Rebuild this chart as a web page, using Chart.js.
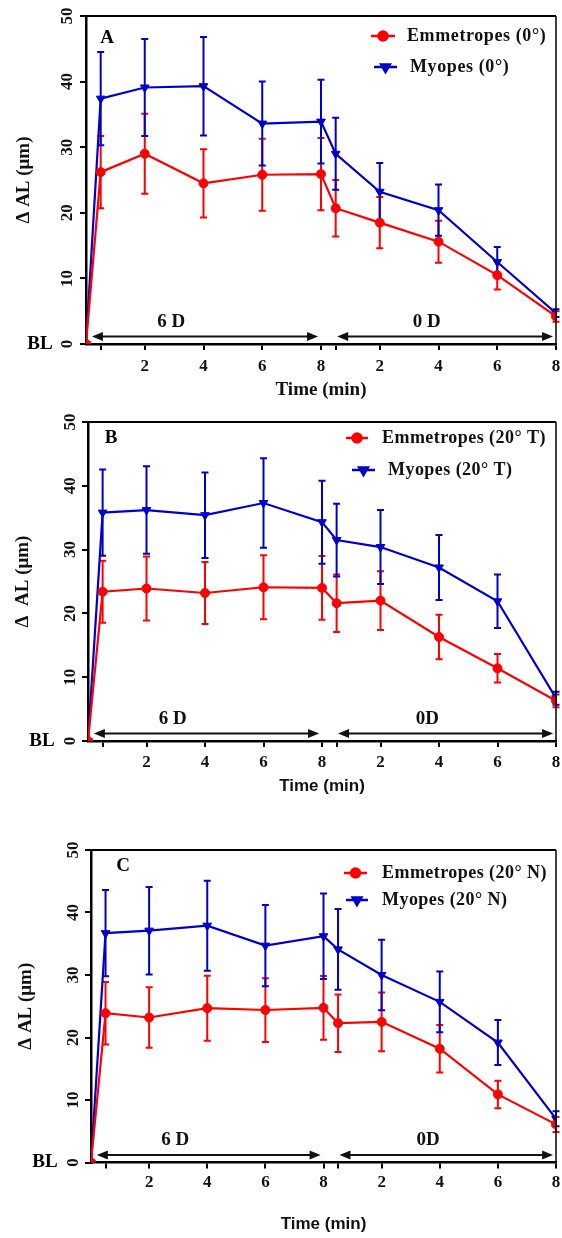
<!DOCTYPE html>
<html>
<head>
<meta charset="utf-8">
<script src="https://cdn.jsdelivr.net/npm/chart.js@4.4.1/dist/chart.umd.min.js"></script>
<style>
  html, body { margin: 0; padding: 0; background: #fff; }
  .panel { position: absolute; left: 0; width: 562px; }
  canvas { display: block; }
</style>
</head>
<body>
<div class="panel" style="top:0px;height:410px"><canvas id="chartA" width="562" height="410"></canvas></div>
<div class="panel" style="top:410px;height:410px"><canvas id="chartB" width="562" height="410"></canvas></div>
<div class="panel" style="top:820px;height:418px"><canvas id="chartC" width="562" height="418"></canvas></div>
<script>
// time points: BL, then 6 D phase (0.5..8 min), then 0 D phase (0.5..8 min, drawn after 8)
const times = [0, 0.5, 2, 4, 6, 8, 8.5, 10, 12, 14, 16];
const tickValues = [0.5, 2, 4, 6, 8, 8.5, 10, 12, 14, 16];
const tickLabels = ["", "2", "4", "6", "8", "", "2", "4", "6", "8"];
const yTicks = [0, 10, 20, 30, 40, 50];

const emmA = [0, 26.2, 29.0, 24.5, 25.8, 25.9, 20.7, 18.5, 15.6, 10.5, 4.2];
const emmSdA = [0, 5.5, 6.1, 5.2, 5.5, 5.5, 4.3, 3.9, 3.2, 2.2, 0.8];
const myoA = [0, 37.4, 39.1, 39.3, 33.6, 33.9, 29.0, 23.2, 20.4, 12.5, 4.7];
const myoSdA = [0, 7.1, 7.4, 7.5, 6.4, 6.4, 5.5, 4.4, 3.9, 2.3, 0.6];

const emmB = [0, 23.4, 23.9, 23.2, 24.1, 24.0, 21.6, 22.0, 16.3, 11.4, 6.3];
const emmSdB = [0, 4.85, 5.0, 4.85, 5.0, 5.0, 4.5, 4.6, 3.5, 2.25, 1.0];
const myoB = [0, 35.8, 36.2, 35.4, 37.3, 34.3, 31.5, 30.4, 27.2, 21.9, 6.7];
const myoSdB = [0, 6.75, 6.85, 6.7, 7.0, 6.5, 5.7, 5.8, 5.1, 4.2, 1.0];

const emmC = [0, 23.9, 23.2, 24.7, 24.4, 24.75, 22.3, 22.5, 18.2, 10.9, 6.1];
const emmSdC = [0, 5.0, 4.85, 5.2, 5.1, 5.1, 4.6, 4.7, 3.8, 2.2, 1.2];
const myoC = [0, 36.7, 37.1, 37.9, 34.7, 36.2, 34.1, 30.0, 25.7, 19.2, 7.0];
const myoSdC = [0, 6.9, 7.0, 7.2, 6.5, 6.85, 6.45, 5.65, 4.85, 3.6, 1.2];

const emmLabels = ["Emmetropes (0°)", "Emmetropes (20° T)", "Emmetropes (20° N)"];
const myoLabels = ["Myopes (0°)", "Myopes (20° T)", "Myopes (20° N)"];
const panelLetters = ["A", "B", "C"];
const phaseNames = [["6 D", "0 D"], ["6 D", "0D"], ["6 D", "0D"]];
const phaseStart = [0.2, 8.55];
const phaseEnd = [7.9, 15.9];
const phaseLabelX = [2.9, 11.6];

const RED = "#ff0000";
const BLUE = "#0000cc";
const SERIF = "'Liberation Serif', 'Times New Roman', serif";
const SANS = "'Liberation Sans', Arial, sans-serif";

// layout of each panel, in canvas pixels
const panels = [
  { id: "chartA", h: 410, area: { left: 86, right: 558, top: 16, bottom: 344 },
    emm: emmA, emmSd: emmSdA, myo: myoA, myoSd: myoSdA,
    yTitle: "\u0394 AL (\u03bcm)", yTitlePad: 13, yTickPad: 4, xTickPad: 6,
    xTitleFont: SERIF, xTitleSize: 19, xTitlePad: 9, letter: [107, 38],
    legendSpacing: 0.6,
    legend: [[371, 395, 407, 36], [374, 397, 410, 67]] },
  { id: "chartB", h: 410, area: { left: 88, right: 556, top: 12, bottom: 331 },
    emm: emmB, emmSd: emmSdB, myo: myoB, myoSd: myoSdB,
    yTitle: "\u0394  AL (\u03bcm)", yTitlePad: 12, yTickPad: 3, xTickPad: 5,
    xTitleFont: SANS, xTitleSize: 17, xTitlePad: 23, letter: [111, 28],
    legendSpacing: 0.45,
    legend: [[346, 368, 382, 28], [352, 375, 388, 60]] },
  { id: "chartC", h: 418, area: { left: 91, right: 559, top: 30, bottom: 342.5 },
    emm: emmC, emmSd: emmSdC, myo: myoC, myoSd: myoSdC,
    yTitle: "\u0394 AL (\u03bcm)", yTitlePad: 15, yTickPad: 3, xTickPad: 4,
    xTitleFont: SANS, xTitleSize: 17, xTitlePad: 3, letter: [123, 46],
    legendSpacing: 0.45,
    legend: [[344, 367, 382, 53], [346, 368, 382, 80]] }
];

function decorations(p, n) {
  return {
    id: "deco" + n,
    beforeDatasetsDraw(chart) {
      const ctx = chart.ctx;
      const xs = chart.scales.x, ys = chart.scales.y;
      ctx.save();
      ctx.lineWidth = 2;
      chart.data.datasets.forEach(ds => {
        ctx.strokeStyle = ds.borderColor;
        ds.data.forEach((pt, i) => {
          const sd = ds.sd[i];
          if (!sd) return;
          const x = xs.getPixelForValue(pt.x);
          const yt = ys.getPixelForValue(pt.y + sd);
          const yb = ys.getPixelForValue(pt.y - sd);
          ctx.beginPath();
          ctx.moveTo(x, yt); ctx.lineTo(x, yb);
          ctx.moveTo(x - 3.5, yt); ctx.lineTo(x + 3.5, yt);
          ctx.moveTo(x - 3.5, yb); ctx.lineTo(x + 3.5, yb);
          ctx.stroke();
        });
      });
      ctx.restore();
    },
    afterDraw(chart) {
      const ctx = chart.ctx;
      const a = chart.chartArea;
      const xs = chart.scales.x, ys = chart.scales.y;
      const y0 = ys.getPixelForValue(0);
      ctx.save();
      // frame top and right
      ctx.strokeStyle = "#000";
      ctx.lineWidth = 2;
      ctx.beginPath(); ctx.moveTo(a.left, a.top); ctx.lineTo(a.right, a.top); ctx.stroke();
      ctx.lineWidth = 1.5;
      ctx.beginPath(); ctx.moveTo(a.right, a.top); ctx.lineTo(a.right, a.bottom); ctx.stroke();

      // phase arrows
      ctx.strokeStyle = "#111";
      ctx.fillStyle = "#111";
      ctx.lineWidth = 2;
      const ya = y0 - 7.5;
      for (let k = 0; k < phaseStart.length; k++) {
        const x1 = xs.getPixelForValue(phaseStart[k]);
        const x2 = xs.getPixelForValue(phaseEnd[k]);
        ctx.beginPath(); ctx.moveTo(x1 + 6, ya); ctx.lineTo(x2 - 6, ya); ctx.stroke();
        ctx.beginPath(); ctx.moveTo(x1, ya); ctx.lineTo(x1 + 11, ya - 4.5); ctx.lineTo(x1 + 11, ya + 4.5); ctx.closePath(); ctx.fill();
        ctx.beginPath(); ctx.moveTo(x2, ya); ctx.lineTo(x2 - 11, ya - 4.5); ctx.lineTo(x2 - 11, ya + 4.5); ctx.closePath(); ctx.fill();
        ctx.font = "bold 19px " + SERIF;
        ctx.textAlign = "center";
        ctx.textBaseline = "middle";
        ctx.fillText(phaseNames[n][k], xs.getPixelForValue(phaseLabelX[k]), y0 - 22);
      }

      // BL label
      ctx.fillStyle = "#000";
      ctx.font = "bold 19px " + SERIF;
      ctx.textAlign = "center";
      ctx.fillText("BL", a.left - 46, y0);

      // panel letter
      ctx.fillText(panelLetters[n], p.letter[0], p.letter[1]);

      // legend
      chart.data.datasets.forEach((ds, i) => {
        const [lx0, lx1, tx, ty] = p.legend[i];
        ctx.strokeStyle = ds.borderColor;
        ctx.fillStyle = ds.borderColor;
        ctx.lineWidth = 2.5;
        ctx.beginPath(); ctx.moveTo(lx0, ty); ctx.lineTo(lx1, ty); ctx.stroke();
        Chart.helpers.drawPoint(ctx, { pointStyle: ds.pointStyle, rotation: ds.rotation || 0, radius: ds.pointRadius, borderWidth: 1 }, (lx0 + lx1) / 2, ty);
        ctx.fillStyle = "#111";
        ctx.font = "bold 18px " + SERIF;
        ctx.textAlign = "left";
        ctx.letterSpacing = p.legendSpacing + "px";
        ctx.fillText(ds.label, tx, ty);
        ctx.letterSpacing = "0px";
      });
      ctx.restore();
    }
  };
}

function makeChart(p, n) {
  const a = p.area;
  const W = 562;
  const toPoints = vals => times.map((t, i) => ({ x: t, y: vals[i] }));
  const tickFont = { family: SERIF, size: 17, weight: "bold" };
  return new Chart(document.getElementById(p.id).getContext("2d"), {
    type: "line",
    data: {
      datasets: [
        { label: emmLabels[n], data: toPoints(p.emm), sd: p.emmSd,
          borderColor: RED, backgroundColor: RED, borderWidth: 2.2,
          pointStyle: "circle", pointRadius: 4.5, pointBorderWidth: 1, tension: 0 },
        { label: myoLabels[n], data: toPoints(p.myo), sd: p.myoSd,
          borderColor: BLUE, backgroundColor: BLUE, borderWidth: 2.2,
          pointStyle: "triangle", rotation: 180, pointRadius: 5, pointBorderWidth: 1, tension: 0 }
      ]
    },
    options: {
      responsive: false,
      animation: false,
      layout: { padding: { left: 0, top: a.top, right: W - a.right, bottom: 0 } },
      plugins: { legend: { display: false }, tooltip: { enabled: false } },
      scales: {
        x: {
          type: "linear", min: 0, max: 16,
          afterBuildTicks: s => { s.ticks = tickValues.map(v => ({ value: v })); },
          afterFit: s => { s.height = p.h - a.bottom; s.paddingLeft = 0; s.paddingRight = 0; },
          ticks: { autoSkip: false, maxRotation: 0, minRotation: 0, padding: p.xTickPad,
                   color: "#111", font: tickFont, callback: (v, i) => tickLabels[i] },
          grid: { drawOnChartArea: false, tickLength: 6, color: "#000", lineWidth: 2 },
          border: { color: "#000", width: 2.5 },
          title: { display: true, text: "Time (min)", color: "#111",
                   font: { family: p.xTitleFont, size: p.xTitleSize, weight: "bold" },
                   padding: { top: 0, bottom: p.xTitlePad } }
        },
        y: {
          min: 0, max: 50,
          afterBuildTicks: s => { s.ticks = yTicks.map(v => ({ value: v })); },
          afterFit: s => { s.width = a.left; s.paddingTop = 0; s.paddingBottom = 0; },
          ticks: { minRotation: 90, maxRotation: 90, crossAlign: "center", padding: p.yTickPad,
                   color: "#111", font: tickFont },
          grid: { drawOnChartArea: false, tickLength: 6, color: "#000", lineWidth: 2 },
          border: { color: "#000", width: 2.5 },
          title: { display: true, text: p.yTitle, color: "#111",
                   font: { family: SERIF, size: 19, weight: "bold" },
                   padding: { top: p.yTitlePad, bottom: 0 } }
        }
      }
    },
    plugins: [decorations(p, n)]
  });
}

panels.forEach((p, n) => makeChart(p, n));
</script>
</body>
</html>
